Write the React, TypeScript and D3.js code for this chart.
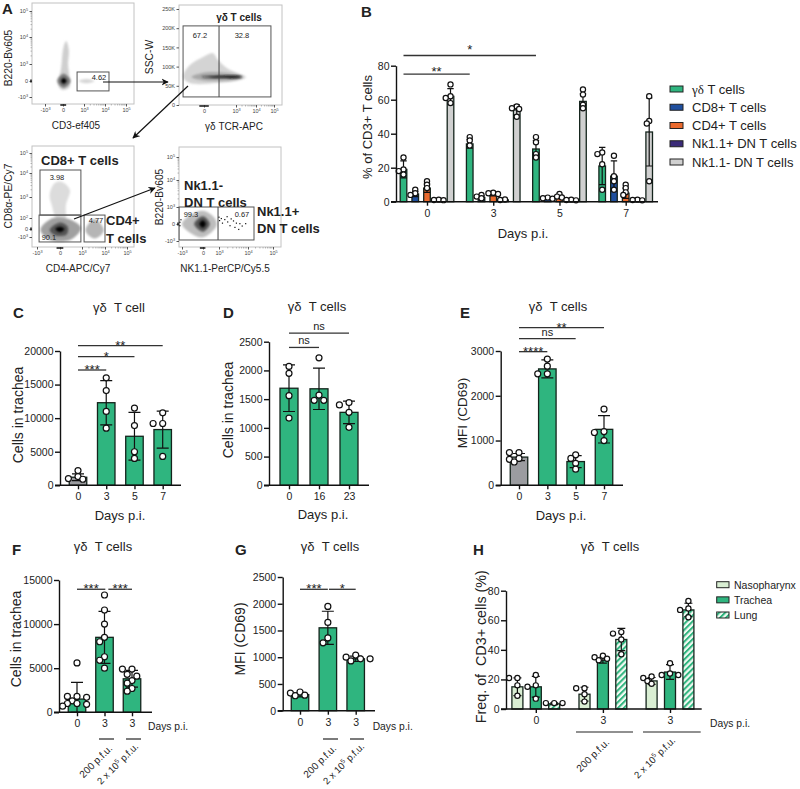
import React, { useEffect, useRef } from 'react';
import * as d3 from 'd3';

// panel B
const bDays = ['0', '3', '5', '7'];
const bSeries = ['γδ T cells', 'CD8+ T cells', 'CD4+ T cells', 'Nk1.1+ DN T cells', 'Nk1.1- DN T cells'];
const bGdMean = [19, 34, 31, 21];
const bGdSd = [5, 2.5, 5, 11];
const bGdDots = [[26, 19, 18, 16], [38, 36, 33], [38, 35, 28, 26], [29, 28, 22, 7]];
const bCd8Mean = [4.5, 2.5, 2, 15];
const bCd8Sd = [1.5, 1, 0.3, 9];
const bCd8Dots = [[7, 5, 4], [4, 3, 2], [2.4, 2, 1.8], [27, 15, 12, 7]];
const bCd4Mean = [8, 4, 3, 5];
const bCd4Sd = [2.5, 0.6, 1, 3];
const bCd4Dots = [[12, 10, 8], [5.3, 5, 4.5], [4.5, 3, 2.5], [10, 8, 5.5, 4]];
const bNkPosMean = [1, 1, 1, 1];
const bNkPosSd = [0.3, 0.3, 0.3, 0.3];
const bNkPosDots = [[1.2, 1, 0.9], [1.3, 1], [1.2, 1, 0.8], [1.2, 1, 0.8]];
const bNkNegMean = [62, 54, 59, 41];
const bNkNegSd = [4.5, 3, 4.5, 20];
const bNkNegDots = [[69, 62, 61, 58], [56, 55, 54.5, 50], [66, 63, 57, 55], [62, 47.5, 46, 12]];

// panel C
const cDays = ['0', '3', '5', '7'];
const cMean = [1200, 12300, 7300, 8300];
const cSd = [500, 3300, 3550, 2750];
const cDots = [[2200, 1300, 1000, 900], [16000, 14100, 11000, 8500], [11500, 8900, 5000, 4000], [10800, 9200, 9200, 4300]];

// panel D
const dDays = ['0', '16', '23'];
const dMean = [1690, 1680, 1270];
const dSd = [405, 360, 195];
const dDots = [[2070, 1950, 1560, 1170], [2220, 1570, 1480, 1480], [1440, 1400, 1270, 1010]];

// panel E
const eDays = ['0', '3', '5', '7'];
const eMean = [630, 2600, 530, 1250];
const eSd = [80, 200, 135, 305];
const eDots = [[730, 730, 600, 580, 520], [2820, 2660, 2490, 2490], [680, 600, 490, 360], [1700, 1200, 1180, 1000]];

// panel F
const fDays = ['0', '3', '3'];
const fMean = [1500, 8500, 3800];
const fSd = [1900, 2950, 950];
const fDots = [
  [5600, 1800, 1800, 1700, 1300, 1000, 1000, 900, 700],
  [13300, 11600, 10000, 8500, 8000, 6300, 5900, 5000],
  [4900, 4900, 4300, 4100, 3600, 3300, 2700, 2400],
];

// panel G
const gDays = ['0', '3', '3'];
const gMean = [300, 1550, 970];
const gSd = [40, 310, 50];
const gDots = [[350, 330, 290, 280], [1950, 1650, 1360, 1270], [1040, 1000, 970, 970, 930]];

// panel H
const hDays = ['0', '3', '3'];
const hTissues = ['Nasopharynx', 'Trachea', 'Lung'];
const hNasoMean = [15, 10, 19];
const hNasoSd = [6, 4.7, 2.3];
const hNasoDots = [[21, 21, 16, 9], [14, 14, 10, 5], [22, 21, 19, 17]];
const hTracheaMean = [15, 33, 25];
const hTracheaSd = [7, 2, 5];
const hTracheaDots = [[23, 16, 15, 7], [36, 35, 34, 33], [31, 24, 23, 23]];
const hLungMean = [3.5, 47, 67];
const hLungSd = [0.6, 7.5, 4.5];
const hLungDots = [[4, 4, 4], [52, 51, 47, 37], [73, 68, 67, 62]];

// flow plots, all shapes are in axis units (1 = 10^3, 2 = 10^4, 3 = 10^5)
const a1Tail = [[-0.05, -0.55], [0.3, -0.4], [0.3, 0.3], [0.24, 1], [0.28, 1.5], [0.15, 1.85], [0.02, 1.6], [-0.1, 0.8], [-0.2, 0.2], [-0.25, -0.3]];
const a1Mid = [[-0.32, 0], [0.03, 0.42], [0.36, 0], [0.03, -0.42]];
const a1Core = [[-0.12, 0], [0.03, 0.18], [0.18, 0], [0.03, -0.18]];
const a1Side = [[0.75, 0], [1.1, 0.12], [1.5, 0], [1.1, -0.14]];
const a2Cloud = [[-0.67, 73], [-0.45, 104], [-0.03, 125], [0.28, 135], [0.44, 117], [0.72, 96], [1.2, 81], [1.5, 73], [1.2, 65], [0.41, 57], [-0.45, 57]];
const a2Mid = [[-0.4, 73], [0.1, 85], [1, 80], [1.35, 73], [1, 66], [0, 64]];
const a2Streak = [[-0.1, 73], [0.5, 76], [1.1, 76], [1.3, 73], [1.1, 70], [0.5, 70]];
const a3Cd8 = [[-0.09, 0.32], [-0.36, 0.81], [-0.45, 1.08], [-0.23, 1.58], [0.09, 1.63], [0.45, 1.29], [0.27, 0.81], [0.23, 0.32]];
const a3Main = [[-0.85, -0.1], [-0.3, 0.5], [0.4, 0.45], [0.95, 0.05], [0.5, -1.3], [-0.4, -1.4]];
const a3Mid = [[-0.45, -0.1], [0, 0.3], [0.35, 0.1], [0.3, -0.7], [-0.2, -0.8]];
const a3Core = [[-0.2, 0], [0, 0.1], [0.2, 0], [0, -0.4]];
const a3Cd4 = [[1.15, -0.2], [1.55, 0.45], [1.95, -0.2], [1.55, -1.2]];
const a4Cloud = [[-1, 0], [-0.5, 0.6], [0, 0.78], [0.7, 0.38], [0.85, -0.1], [0, -0.78], [-0.5, -0.6]];
const a4Mid = [[-0.42, 0], [0, 0.45], [0.42, 0], [0, -0.45]];
const a4Core = [[-0.18, 0], [0, 0.22], [0.18, 0], [0, -0.22]];
const a4Events = [
  [1.0, 0.4], [1.02, 0.2], [1.08, 0.32], [1.12, 0.05], [1.2, 0.26], [1.28, 0.43], [1.3, 0.12], [1.38, -0.1], [1.42, 0.3],
  [1.5, 0.18], [1.55, -0.2], [1.6, 0.05], [1.68, -0.32], [1.72, 0.02], [1.8, -0.12], [1.92, 0.02], [-1.1, 0.1], [-1.1, -0.1], [-1.05, 0.25],
];

const FONT = '"Liberation Sans", Arial, sans-serif';
const INK = '#222';
const GREEN = '#2fb57f';
const GREY = '#9b9ca0';
const LIGHT_GREEN = '#d9eed3';
const seriesColors = [GREEN, '#1f4f9e', '#ea6a2e', '#3a2a78', '#d0d0d0'];
const tissueColors = [LIGHT_GREEN, GREEN, 'url(#hatch)'];

type Sel = d3.Selection<any, any, any, any>;
type Sig = { from: number; to: number; at: number; label: string; lift?: number };

const txt = (g: Sel, x: number, y: number, s: string, size = 13, anchor = 'middle', weight = 'normal') =>
  g.append('text')
    .attr('x', x)
    .attr('y', y)
    .attr('text-anchor', anchor)
    .attr('font-size', size)
    .attr('font-weight', weight)
    .attr('font-family', FONT)
    .attr('fill', INK)
    .text(s);

const vtxt = (g: Sel, x: number, y: number, s: string, size = 13) =>
  g.append('text')
    .attr('transform', `translate(${x},${y}) rotate(-90)`)
    .attr('text-anchor', 'middle')
    .attr('font-size', size)
    .attr('font-family', FONT)
    .attr('fill', INK)
    .text(s);

// spreads tied points sideways the way Prism does
const dodge = (px: number[], step: number, minDist: number) => {
  const placed: { x: number; y: number }[] = [];
  return px.map((y) => {
    const tries = [0, -1, 1, -2, 2, -3, 3].map((k) => k * step);
    const x = tries.find((t) => placed.every((p) => Math.hypot(p.x - t, p.y - y) >= minDist)) ?? 0;
    placed.push({ x, y });
    return x;
  });
};

const drawBar = (g: Sel, cx: number, w: number, y: d3.ScaleLinear<number, number>, mean: number, sd: number, dots: number[], fill: string, cap: number, r: number, step = r * 1.6, minDist = r * 1.8) => {
  g.append('rect')
    .attr('x', cx - w / 2)
    .attr('y', y(mean))
    .attr('width', w)
    .attr('height', y(0) - y(mean))
    .attr('fill', fill)
    .attr('stroke', '#14241c')
    .attr('stroke-width', 1.3);
  const low = Math.max(mean - sd, 0);
  g.append('path')
    .attr('d', `M${cx},${y(low)}V${y(mean + sd)}M${cx - cap},${y(mean + sd)}H${cx + cap}M${cx - cap},${y(low)}H${cx + cap}`)
    .attr('fill', 'none')
    .attr('stroke', '#111')
    .attr('stroke-width', 1.2);
  const py = dots.map((d) => y(d));
  const off = dodge(py, step, minDist);
  py.forEach((v, i) => {
    g.append('circle')
      .attr('cx', cx + off[i])
      .attr('cy', v)
      .attr('r', r)
      .attr('fill', '#fff')
      .attr('stroke', '#111')
      .attr('stroke-width', 1.2);
  });
};

const drawAxes = (g: Sel, x: d3.ScalePoint<string>, y: d3.ScaleLinear<number, number>, labels: string[], axisX: number, endX: number, yTicks: number[]) => {
  const yAxis = g.append('g')
    .attr('transform', `translate(${axisX},0)`)
    .call(d3.axisLeft(y).tickValues(yTicks).tickSize(5).tickPadding(1.5).tickSizeOuter(0).tickFormat((d) => String(d)));
  const xAxis = g.append('g')
    .attr('transform', `translate(0,${y(0)})`)
    .call(d3.axisBottom(x).tickSize(4).tickPadding(3.5).tickFormat((d) => labels[+d]));
  xAxis.select('.domain').remove();
  g.append('line')
    .attr('x1', axisX - 5)
    .attr('x2', endX)
    .attr('y1', y(0))
    .attr('y2', y(0))
    .attr('stroke', '#111')
    .attr('stroke-width', 1.4);
  [yAxis, xAxis].forEach((a) => {
    a.selectAll('line, path').attr('stroke', '#111').attr('stroke-width', 1.4);
    a.selectAll('text').attr('font-size', 10.5).attr('font-family', FONT).attr('fill', INK);
  });
};

const drawSig = (g: Sel, pos: (i: number) => number, y: d3.ScaleLinear<number, number>, sigs: Sig[]) => {
  sigs.forEach((s) => {
    const x1 = pos(s.from);
    const x2 = pos(s.to);
    g.append('line')
      .attr('x1', x1)
      .attr('x2', x2)
      .attr('y1', y(s.at))
      .attr('y2', y(s.at))
      .attr('stroke', '#333')
      .attr('stroke-width', 1.3);
    if (s.label === 'ns') txt(g, (x1 + x2) / 2, y(s.at) - 3, 'ns', 11);
    else txt(g, (x1 + x2) / 2, y(s.at) + 4 - (s.lift ?? 0), s.label, 13);
  });
};

type Single = {
  axisX: number; endX: number; first: number; last: number; y0: number; yTop: number; yMax: number; ticks: number[];
  labels: string[]; mean: number[]; sd: number[]; dots: number[][]; fills: string[]; barW: number; sig: Sig[];
};

const singlePanel = (g: Sel, p: Single) => {
  const idx = p.labels.map((_, i) => String(i));
  const x = d3.scalePoint<string>().domain(idx).range([p.first, p.last]);
  const y = d3.scaleLinear().domain([0, p.yMax]).range([p.y0, p.yTop]);
  p.mean.forEach((m, i) => drawBar(g, x(String(i))!, p.barW, y, m, p.sd[i], p.dots[i], p.fills[i], 6, 3));
  drawAxes(g, x, y, p.labels, p.axisX, p.endX, p.ticks);
  drawSig(g, (i) => x.step() * i + p.first, y, p.sig);
};

// the 2 x 10^5 label runs close to the bottom of the page, so it sits a little higher and tighter
const highDose = (g: Sel, x: number, y: number) => {
  const t = g.append('text')
    .attr('transform', `translate(${x},${y}) rotate(-45)`)
    .attr('text-anchor', 'end')
    .attr('font-size', 9.6)
    .attr('font-family', FONT)
    .attr('fill', INK);
  t.append('tspan').text('2 x 10');
  t.append('tspan').attr('font-size', 6.5).attr('dy', -3.5).text('5');
  t.append('tspan').attr('dy', 3.5).text('\u00a0p.f.u.');
};

const doseLabels = (g: Sel, x1: number, x2: number, spanA: number[], spanB: number[], lineY: number, daysX: number, daysY: number) => {
  txt(g, daysX, daysY, 'Days p.i.', 10.3, 'start');
  [spanA, spanB].forEach((s) => {
    g.append('line').attr('x1', s[0]).attr('x2', s[1]).attr('y1', lineY).attr('y2', lineY).attr('stroke', '#222').attr('stroke-width', 1.2);
  });
  g.append('text')
    .attr('transform', `translate(${x1},${lineY + 10}) rotate(-45)`)
    .attr('text-anchor', 'end')
    .attr('font-size', 10)
    .attr('font-family', FONT)
    .attr('fill', INK)
    .text('200 p.f.u.');
  highDose(g, x2, lineY + 8);
};

type Flow = {
  box: number[]; xDom: number[]; xPx: number[]; yDom: number[]; yPx: number[];
  xTicks: [number, string][]; yTicks: [number, string][]; shapes: { pts: number[][]; fill: string; blur: string }[];
  gates: number[][]; dividers: { x: number; y0: number; y1: number }[]; xLabel: string; xLabelX: number; yLabel: string; yLabelX: number; yLabelY: number;
};

const supLabel = (sel: Sel) => {
  sel.each(function () {
    const el = d3.select(this as SVGTextElement);
    const s = el.text();
    if (!s.includes('^')) return;
    const [a, b] = s.split('^');
    el.text(a);
    el.append('tspan').attr('dy', -1.8).attr('font-size', 3.8).text(b);
  });
};

const minorUnits = d3.range(1, 3).flatMap((dec) => d3.range(2, 10).map((m) => dec + Math.log10(m)));

const flowPlot = (g: Sel, f: Flow) => {
  const x = d3.scaleLinear().domain(f.xDom).range(f.xPx);
  const y = d3.scaleLinear().domain(f.yDom).range(f.yPx);
  const [l, t, r, b] = f.box;
  g.append('rect').attr('x', l).attr('y', t).attr('width', r - l).attr('height', b - t).attr('fill', '#fff').attr('stroke', '#c2c2c2');
  const line = d3.line<number[]>().x((d) => x(d[0])).y((d) => y(d[1])).curve(d3.curveCatmullRomClosed);
  f.shapes.forEach((s) => {
    g.append('path').attr('d', line(s.pts)).attr('fill', s.fill).attr('filter', s.blur);
  });
  f.gates.forEach((q) => {
    g.append('rect')
      .attr('x', x(q[0]))
      .attr('y', y(q[3]))
      .attr('width', x(q[1]) - x(q[0]))
      .attr('height', y(q[2]) - y(q[3]))
      .attr('fill', 'none')
      .attr('stroke', '#555')
      .attr('stroke-width', 1);
  });
  f.dividers.forEach((d) => {
    g.append('line').attr('x1', x(d.x)).attr('x2', x(d.x)).attr('y1', y(d.y0)).attr('y2', y(d.y1)).attr('stroke', '#444').attr('stroke-width', 1);
  });
  const xa = g.append('g').attr('transform', `translate(0,${b})`)
    .call(d3.axisBottom(x).tickValues(f.xTicks.map((d) => d[0])).tickSize(2.5).tickPadding(1.5).tickSizeOuter(0)
      .tickFormat((d) => f.xTicks.find((k) => k[0] === d)![1]));
  const ya = g.append('g').attr('transform', `translate(${l},0)`)
    .call(d3.axisLeft(y).tickValues(f.yTicks.map((d) => d[0])).tickSize(2.5).tickPadding(1.5).tickSizeOuter(0)
      .tickFormat((d) => f.yTicks.find((k) => k[0] === d)![1]));
  [xa, ya].forEach((a) => {
    a.select('.domain').remove();
    a.selectAll('line').attr('stroke', '#555');
    const labels = a.selectAll('text').attr('font-size', 5.5).attr('font-family', FONT).attr('fill', '#444');
    supLabel(labels as Sel);
  });
  // minor decade ticks
  minorUnits.forEach((u) => {
    g.append('line').attr('x1', x(u)).attr('x2', x(u)).attr('y1', b).attr('y2', b + 1.5).attr('stroke', '#777').attr('stroke-width', 0.5);
    if (f.yDom[f.yDom.length - 1] === 3) {
      g.append('line').attr('x1', l - 1.5).attr('x2', l).attr('y1', y(u)).attr('y2', y(u)).attr('stroke', '#777').attr('stroke-width', 0.5);
    }
  });
  // small black rug at zero
  g.append('line').attr('x1', x(-0.15)).attr('x2', x(0.15)).attr('y1', b + 1).attr('y2', b + 1).attr('stroke', '#222').attr('stroke-width', 1.6);
  if (f.yDom[f.yDom.length - 1] === 3) {
    g.append('line').attr('x1', l - 1).attr('x2', l - 1).attr('y1', y(0) - 1.5).attr('y2', y(0) + 1.5).attr('stroke', '#222').attr('stroke-width', 1.6);
  }
  vtxt(g, f.yLabelX, f.yLabelY, f.yLabel, 10.3);
  txt(g, f.xLabelX, b + 25, f.xLabel, 10);
};

const arrow = (g: Sel, x1: number, y1: number, x2: number, y2: number) => {
  g.append('line')
    .attr('x1', x1)
    .attr('y1', y1)
    .attr('x2', x2)
    .attr('y2', y2)
    .attr('stroke', '#111')
    .attr('stroke-width', 1.2)
    .attr('marker-end', 'url(#arrowHead)');
};

const draw = (svg: Sel) => {
  const defs = svg.append('defs');
  defs.append('filter').attr('id', 'soft').attr('x', '-30%').attr('y', '-30%').attr('width', '160%').attr('height', '160%')
    .append('feGaussianBlur').attr('stdDeviation', 1.3);
  defs.append('marker').attr('id', 'arrowHead').attr('viewBox', '0 0 10 10').attr('refX', 9).attr('refY', 5)
    .attr('markerWidth', 6).attr('markerHeight', 6).attr('orient', 'auto')
    .append('path').attr('d', 'M0,0L10,5L0,10L3,5Z').attr('fill', '#111');
  const hatch = defs.append('pattern').attr('id', 'hatch').attr('width', 4.2).attr('height', 4.2)
    .attr('patternUnits', 'userSpaceOnUse').attr('patternTransform', 'rotate(45)');
  hatch.append('rect').attr('width', 4.2).attr('height', 4.2).attr('fill', '#f2faf2');
  hatch.append('rect').attr('width', 2).attr('height', 4.2).attr('fill', GREEN);

  // panel letters
  const letters: [string, number, number][] = [['A', 2, 14], ['B', 361, 17], ['C', 13, 318], ['D', 223, 318], ['E', 460, 318], ['F', 12, 555], ['G', 235, 555], ['H', 473, 555]];
  letters.forEach(([s, x, y]) => txt(svg, x, y, s, 15, 'start', 'bold'));

  // panel A
  const a = svg.append('g');
  const decX: [number, string][] = [[-1, '-10^3'], [0, '0'], [1, '10^3'], [2, '10^4'], [3, '10^5']];
  flowPlot(a, {
    box: [32, 3, 134, 104], xDom: [-1, 0, 1, 2, 3], xPx: [45, 63, 84, 105, 126], yDom: [-1, 0, 1, 2, 3], yPx: [97, 81, 64, 37, 11],
    xTicks: decX, yTicks: decX,
    shapes: [
      { pts: a1Tail, fill: '#cfcfcf', blur: 'url(#soft)' },
      { pts: a1Side, fill: '#d6d6d6', blur: 'url(#soft)' },
      { pts: a1Mid, fill: '#777', blur: 'url(#soft)' },
      { pts: a1Core, fill: '#000', blur: 'url(#soft)' },
    ],
    gates: [[0.67, 2.19, -0.62, 0.53]], dividers: [],
    xLabel: 'CD3-ef405', xLabelX: 76, yLabel: 'B220-Bv605', yLabelX: 12, yLabelY: 58,
  });
  flowPlot(a, {
    box: [179, 5, 282, 105], xDom: [-0.8, 0, 1, 2, 3], xPx: [179, 204, 236, 256, 274], yDom: [0, 250], yPx: [105, 9],
    xTicks: [[0, '0'], [1, '10^3'], [2, '10^4'], [3, '10^5']],
    yTicks: [[0, '0'], [50, '50K'], [100, '100K'], [150, '150K'], [200, '200K'], [250, '250K']],
    shapes: [
      { pts: a2Cloud, fill: '#d4d4d4', blur: 'url(#soft)' },
      { pts: a2Mid, fill: '#a8a8a8', blur: 'url(#soft)' },
      { pts: a2Streak, fill: '#111', blur: 'url(#soft)' },
    ],
    gates: [[-0.67, 2.83, 21, 206]], dividers: [{ x: 0.47, y0: 21, y1: 206 }],
    xLabel: 'γδ TCR-APC', xLabelX: 234, yLabel: 'SSC-W', yLabelX: 153, yLabelY: 57,
  });
  flowPlot(a, {
    box: [32, 146, 134, 247], xDom: [-1, 0, 1, 2, 3], xPx: [37, 60, 82, 105, 127], yDom: [-1, 0, 0.5, 1, 2, 3], yPx: [237, 229, 218, 197, 173, 153],
    xTicks: decX, yTicks: [[-1, '-10^3'], [0, '0'], [0.5, '10^2'], [1, '10^3'], [2, '10^4'], [3, '10^5']],
    shapes: [
      { pts: a3Cd8, fill: '#dcdcdc', blur: 'url(#soft)' },
      { pts: a3Cd4, fill: '#b5b5b5', blur: 'url(#soft)' },
      { pts: a3Main, fill: '#a0a0a0', blur: 'url(#soft)' },
      { pts: a3Mid, fill: '#555', blur: 'url(#soft)' },
      { pts: a3Core, fill: '#000', blur: 'url(#soft)' },
    ],
    gates: [[-0.87, 0.95, 0.57, 2.15], [-0.91, 0.95, -1.62, 0.57], [1.09, 2, -1.62, 0.57]], dividers: [],
    xLabel: 'CD4-APC/Cy7', xLabelX: 78, yLabel: 'CD8α-PE/Cy7', yLabelX: 12, yLabelY: 196,
  });
  const a4 = a.append('g');
  flowPlot(a4, {
    box: [179, 147, 281, 247], xDom: [-1, 0, 1, 2, 3], xPx: [182, 203, 219, 248, 273], yDom: [-1, 0, 1, 2, 3], yPx: [241, 224, 207, 180, 157],
    xTicks: decX, yTicks: decX,
    shapes: [
      { pts: a4Cloud, fill: '#bdbdbd', blur: 'url(#soft)' },
      { pts: a4Mid, fill: '#555', blur: 'url(#soft)' },
      { pts: a4Core, fill: '#000', blur: 'url(#soft)' },
    ],
    gates: [[-1.14, 2.24, -0.94, 1]], dividers: [{ x: 0.94, y0: -0.94, y1: 1 }],
    xLabel: 'NK1.1-PerCP/Cy5.5', xLabelX: 225, yLabel: 'B220-Bv605', yLabelX: 163, yLabelY: 197,
  });
  const a4x = d3.scaleLinear().domain([-1, 0, 1, 2, 3]).range([182, 203, 219, 248, 273]);
  const a4y = d3.scaleLinear().domain([-1, 0, 1, 2, 3]).range([241, 224, 207, 180, 157]);
  a4Events.forEach((e) => {
    a4.append('rect').attr('x', a4x(e[0]) - 0.6).attr('y', a4y(e[1]) - 0.6).attr('width', 1.2).attr('height', 1.2).attr('fill', '#111');
  });
  const gateText: [string, number, number][] = [
    ['4.62', 99, 80], ['67.2', 200, 38], ['32.8', 242, 38], ['3.98', 57, 179.5], ['90.1', 49, 239.5], ['4.77', 96, 222.5], ['99.3', 191, 217], ['0.67', 242, 217],
  ];
  gateText.forEach(([s, x, y]) => txt(a, x, y, s, 7.5));
  txt(a, 239, 21, 'γδ T cells', 10, 'middle', 'bold');
  txt(a, 41, 165, 'CD8+ T cells', 13, 'start', 'bold');
  txt(a, 106, 225, 'CD4+', 13, 'start', 'bold');
  txt(a, 106, 243, 'T cells', 13, 'start', 'bold');
  txt(a, 184, 190, 'Nk1.1-', 13, 'start', 'bold');
  txt(a, 184, 207, 'DN T cells', 13, 'start', 'bold');
  txt(a, 257, 216, 'Nk1.1+', 13, 'start', 'bold');
  txt(a, 257, 233, 'DN T cells', 13, 'start', 'bold');
  arrow(a, 103, 82, 168, 82);
  arrow(a, 188, 86, 133, 138);
  arrow(a, 74, 219, 155, 188);

  // panel B
  const b = svg.append('g');
  const bx = d3.scalePoint<string>().domain(bDays.map((_, i) => String(i))).range([427, 625.7]);
  const bInner = d3.scalePoint<string>().domain(bSeries).range([-23.5, 23.5]);
  const by = d3.scaleLinear().domain([0, 80]).range([201.7, 65.7]);
  const bMeans = [bGdMean, bCd8Mean, bCd4Mean, bNkPosMean, bNkNegMean];
  const bSds = [bGdSd, bCd8Sd, bCd4Sd, bNkPosSd, bNkNegSd];
  const bDots = [bGdDots, bCd8Dots, bCd4Dots, bNkPosDots, bNkNegDots];
  bSeries.forEach((s, k) => {
    bMeans[k].forEach((m, i) => {
      drawBar(b, bx(String(i))! + bInner(s)!, 6.6, by, m, bSds[k][i], bDots[k][i], seriesColors[k], 3.2, 2.6, 2.4, 3.2);
    });
  });
  drawAxes(b, bx, by, bDays, 396, 658, [0, 20, 40, 60, 80]);
  const bStart = bx('0')! + bInner(bSeries[0])!;
  const bPos = (i: number) => bx.step() * i + bStart;
  drawSig(b, bPos, by, [{ from: 0, to: 1, at: 75, label: '**', lift: 2 }, { from: 0, to: 2, at: 86, label: '*', lift: 6 }]);
  txt(b, 523, 238, 'Days p.i.');
  vtxt(b, 372, 127, '% of CD3+ T cells');
  const bLeg = d3.scalePoint<string>().domain(bSeries).range([89, 162]);
  bSeries.forEach((s, k) => {
    const yy = bLeg(s)!;
    b.append('rect').attr('x', 670).attr('y', yy - 3).attr('width', 13).attr('height', 6).attr('fill', seriesColors[k]).attr('stroke', '#222').attr('stroke-width', 1);
    const t = txt(b, 692, yy + 4.5, k === 0 ? '' : s, 13, 'start');
    if (k === 0) {
      t.append('tspan').attr('font-family', '"Liberation Serif", serif').text('γδ');
      t.append('tspan').text(' T cells');
    }
  });

  // panels C to G
  const c = svg.append('g');
  singlePanel(c, {
    axisX: 60, endX: 181, first: 78, last: 162.7, y0: 485.3, yTop: 351, yMax: 20000, ticks: [0, 5000, 10000, 15000, 20000],
    labels: cDays, mean: cMean, sd: cSd, dots: cDots, fills: [GREY, GREEN, GREEN, GREEN], barW: 17.5,
    sig: [{ from: 0, to: 1, at: 17170, label: '***' }, { from: 0, to: 2, at: 19150, label: '*' }, { from: 0, to: 3, at: 20790, label: '**' }],
  });
  txt(c, 119, 312, 'γδ\u00a0\u00a0T cell');
  txt(c, 120, 520, 'Days p.i.');
  vtxt(c, 23, 415, 'Cells in trachea', 14);

  const dp = svg.append('g');
  singlePanel(dp, {
    axisX: 269, endX: 369, first: 289, last: 349, y0: 485.3, yTop: 341.7, yMax: 2500, ticks: [0, 500, 1000, 1500, 2000, 2500],
    labels: dDays, mean: dMean, sd: dSd, dots: dDots, fills: [GREEN, GREEN, GREEN], barW: 18,
    sig: [{ from: 0, to: 1, at: 2400, label: 'ns' }, { from: 0, to: 2, at: 2650, label: 'ns' }],
  });
  txt(dp, 317, 311, 'γδ\u00a0\u00a0T cells');
  txt(dp, 323, 519, 'Days p.i.');
  vtxt(dp, 233, 410, 'Cells in trachea', 14);

  const e = svg.append('g');
  singlePanel(e, {
    axisX: 500.7, endX: 623, first: 519, last: 604, y0: 485.3, yTop: 351, yMax: 3000, ticks: [0, 1000, 2000, 3000],
    labels: eDays, mean: eMean, sd: eSd, dots: eDots, fills: [GREY, GREEN, GREEN, GREEN], barW: 17.5,
    sig: [{ from: 0, to: 1, at: 2985, label: '****' }, { from: 0, to: 2, at: 3275, label: 'ns' }, { from: 0, to: 3, at: 3520, label: '**' }],
  });
  txt(e, 558, 311, 'γδ\u00a0\u00a0T cells');
  txt(e, 561, 520, 'Days p.i.');
  vtxt(e, 467, 413, 'MFI (CD69)', 13.5);

  const fp = svg.append('g');
  singlePanel(fp, {
    axisX: 59, endX: 152, first: 77, last: 132, y0: 712.3, yTop: 580, yMax: 15000, ticks: [0, 5000, 10000, 15000],
    labels: fDays, mean: fMean, sd: fSd, dots: fDots, fills: [GREEN, GREEN, GREEN], barW: 17.5,
    sig: [{ from: 0, to: 1.03, at: 13950, label: '***' }, { from: 1.14, to: 2, at: 13950, label: '***' }],
  });
  txt(fp, 103, 551, 'γδ\u00a0\u00a0T cells');
  vtxt(fp, 21, 639, 'Cells in trachea', 14);
  doseLabels(fp, 113, 139, [99, 114], [126, 141], 739, 148, 730);

  const gp = svg.append('g');
  singlePanel(gp, {
    axisX: 282.7, endX: 375, first: 300, last: 355.7, y0: 710.7, yTop: 577, yMax: 2500, ticks: [0, 500, 1000, 1500, 2000, 2500],
    labels: gDays, mean: gMean, sd: gSd, dots: gDots, fills: [GREEN, GREEN, GREEN], barW: 17.5,
    sig: [{ from: 0, to: 1, at: 2270, label: '***' }, { from: 1.04, to: 2, at: 2270, label: '*' }],
  });
  txt(gp, 330, 551, 'γδ\u00a0\u00a0T cells');
  vtxt(gp, 245, 639, 'MFI (CD69)', 14);
  doseLabels(gp, 337, 365, [323, 338], [350, 364], 739, 372.7, 730);

  // panel H
  const h = svg.append('g');
  const hx = d3.scalePoint<string>().domain(hDays.map((_, i) => String(i))).range([535.8, 670]);
  const hInner = d3.scalePoint<string>().domain(hTissues).range([-18.4, 18.4]);
  const hy = d3.scaleLinear().domain([0, 80]).range([709, 590.7]);
  const hMeans = [hNasoMean, hTracheaMean, hLungMean];
  const hSds = [hNasoSd, hTracheaSd, hLungSd];
  const hDots = [hNasoDots, hTracheaDots, hLungDots];
  hTissues.forEach((s, k) => {
    hMeans[k].forEach((m, i) => {
      drawBar(h, hx(String(i))! + hInner(s)!, 11, hy, m, hSds[k][i], hDots[k][i], tissueColors[k], 4, 2.6);
    });
  });
  drawAxes(h, hx, hy, hDays, 506, 701.7, [0, 20, 40, 60, 80]);
  txt(h, 610, 551, 'γδ\u00a0\u00a0T cells');
  vtxt(h, 486, 646.7, 'Freq. of\u00a0\u00a0CD3+ cells (%)', 14.3);
  txt(h, 710, 727, 'Days p.i.', 10.3, 'start');
  [[576, 633], [643, 700.7]].forEach((s) => {
    h.append('line').attr('x1', s[0]).attr('x2', s[1]).attr('y1', 732).attr('y2', 732).attr('stroke', '#222').attr('stroke-width', 1.2);
  });
  h.append('text').attr('transform', 'translate(610,743) rotate(-45)').attr('text-anchor', 'end').attr('font-size', 10).attr('font-family', FONT).attr('fill', INK).text('200 p.f.u.');
  highDose(h, 676, 741);
  const hLeg = d3.scalePoint<string>().domain(hTissues).range([584.7, 615]);
  hTissues.forEach((s, k) => {
    const yy = hLeg(s)!;
    h.append('rect').attr('x', 716.7).attr('y', yy - 3).attr('width', 12.3).attr('height', 6).attr('fill', tissueColors[k]).attr('stroke', '#222').attr('stroke-width', 1);
    txt(h, 734, yy + 4, s, 10.5, 'start');
  });
};

const App = () => {
  const ref = useRef<SVGSVGElement | null>(null);

  useEffect(() => {
    const svg = d3.select(ref.current);
    svg.selectAll('*').remove();
    draw(svg as unknown as Sel);
  }, []);

  return <svg ref={ref} width={800} height={789} style={{ position: 'absolute', left: 0, top: 0, background: '#fff' }} />;
};

export default App;
